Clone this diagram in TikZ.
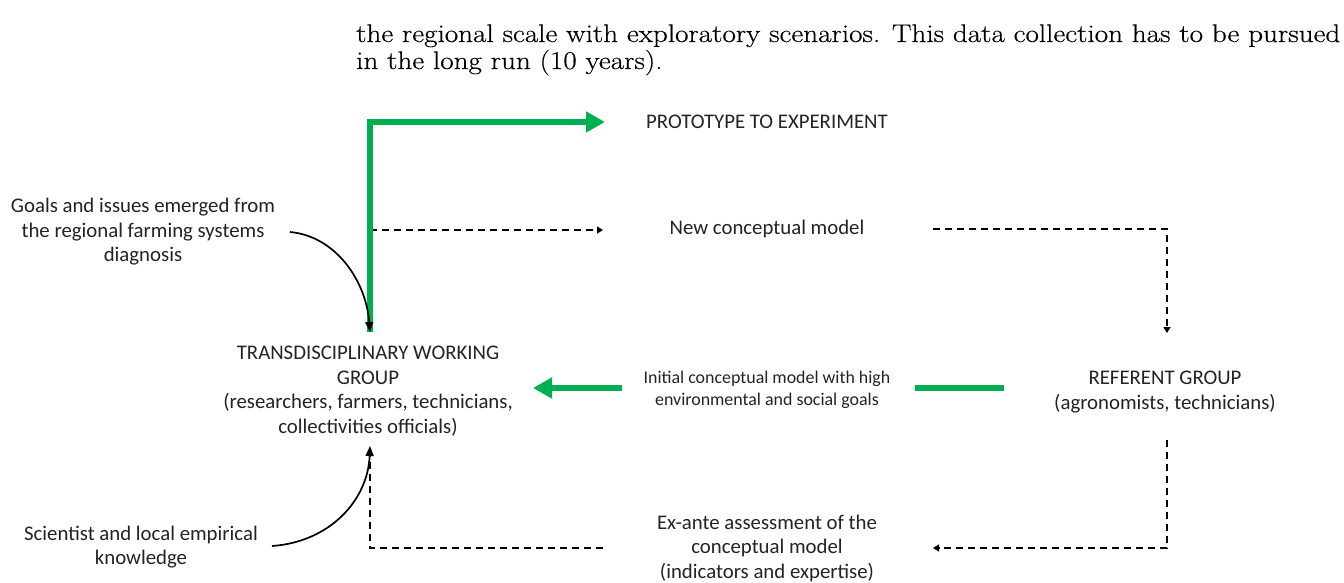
\documentclass[tikz,border=0pt]{standalone}
\usepackage{fontspec}
\newfontfamily\calfont{Carlito}
\newfontfamily\bodyfont{Latin Modern Roman}[FakeStretch=1.143, FakeBold=0.4]
\usetikzlibrary{arrows.meta}
\definecolor{grn}{RGB}{0,176,80}
\definecolor{txt}{RGB}{35,35,35}
\tikzset{
  lbl/.style={font=\calfont\fontsize{20.8}{24.5}\selectfont, text=txt, align=center, inner sep=0pt},
  lblsmall/.style={font=\calfont\fontsize{17.9}{21.5}\selectfont, text=txt, align=center, inner sep=0pt},
  body/.style={font=\bodyfont\fontsize{25.5}{27}\selectfont, anchor=base west, inner sep=0pt},
  greenpath/.style={line width=5.5pt, draw=grn, line join=miter},
  greenarrow/.style={greenpath, -{Triangle[width=20pt,length=19pt]}},
  dashpath/.style={line width=1.7pt, dash pattern=on 7pt off 5pt, draw=black},
  dasharrow/.style={dashpath, -{Triangle[width=7pt,length=6pt]}},
  curvearrow/.style={line width=1.7pt, draw=black, -{Triangle[width=8pt,length=10pt]}}
}
\begin{document}
\begin{tikzpicture}[x=1pt,y=-1pt]
\useasboundingbox (0,0) rectangle (1344,583);
% body text
\node[body] (b1) at (356,42) {the regional scale with exploratory scenarios. This data collection has to be pursued};
\node[body] (b2) at (356,69) {in the long run (10 years).};
% labels
\node[lbl] (proto) at (767,122) {PROTOTYPE TO EXPERIMENT};
\node[lbl] (ncm) at (767,229) {New conceptual model};
\node[lbl] (twg) at (368,391) {TRANSDISCIPLINARY WORKING\\GROUP\\(researchers, farmers, technicians,\\collectivities officials)};
\node[lblsmall] (icm) at (767,390) {Initial conceptual model with high\\environmental and social goals};
\node[lbl] (ref) at (1165,392) {REFERENT GROUP\\(agronomists, technicians)};
\node[lbl] (exa) at (767,548) {Ex-ante assessment of the\\conceptual model\\(indicators and expertise)};
\node[lbl] (goals) at (143,232) {Goals and issues emerged from\\the regional farming systems\\diagnosis};
\node[lbl] (sci) at (141,547) {Scientist and local empirical\\knowledge};
% coordinates
\coordinate (twgTop) at (370,332);
\coordinate (twgBot) at (370,446);
\coordinate (protoIn) at (605,122);
\coordinate (ncmIn) at (603,230);
\coordinate (ncmOut) at (933,229);
\coordinate (refIn) at (1167,333);
\coordinate (refOut) at (1167,440);
\coordinate (exaIn) at (933,548);
\coordinate (exaOut) at (603,548);
\coordinate (twgDash) at (370,452);
\coordinate (icmOut) at (622,388);
\coordinate (twgRight) at (533,388);
\coordinate (refLeft) at (1004,388);
\coordinate (icmRight) at (915,388);
\coordinate (goalsEnd) at (290,232);
\coordinate (sciEnd) at (272,546);
% connectors
\draw[dasharrow] (370,230) -- (ncmIn);
\draw[greenarrow] (twgTop) |- (protoIn);
\draw[dasharrow] (ncmOut) -| (refIn);
\draw[dasharrow] (refOut) |- (exaIn);
\draw[dashpath] (exaOut) -| (twgDash);
\draw[greenarrow] (icmOut) -- (twgRight);
\draw[greenpath] (refLeft) -- (icmRight);
\draw[curvearrow] (goalsEnd) .. controls (335,236) and (366,280) .. (twgTop);
\draw[curvearrow] (sciEnd) .. controls (330,542) and (368,500) .. (twgBot);
\end{tikzpicture}
\end{document}
